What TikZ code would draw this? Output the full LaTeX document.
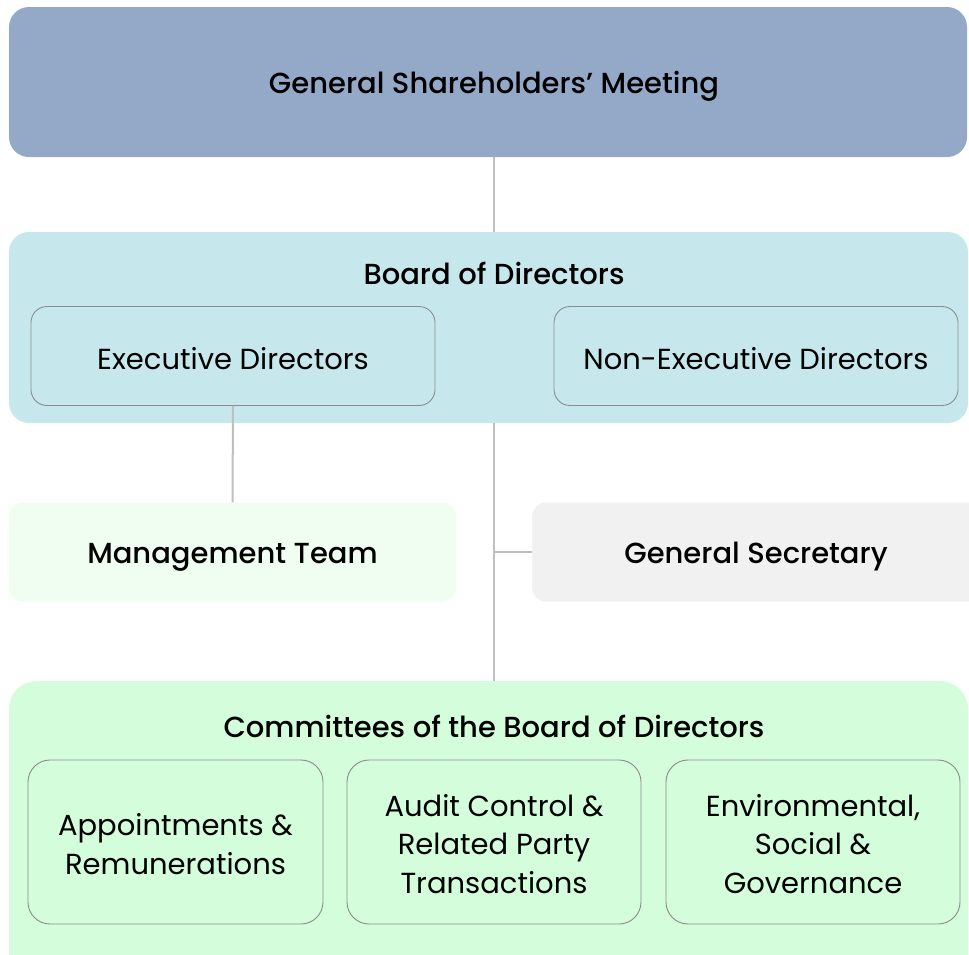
\documentclass[tikz,border=0pt]{standalone}
\usepackage{fontspec}
\setmainfont{Poppins}[BoldFont={Poppins Medium}]
\usetikzlibrary{positioning}
\definecolor{gsmblue}{HTML}{94A9C7}
\definecolor{bodcyan}{HTML}{C6E8EC}
\definecolor{mgmtgreen}{HTML}{EFFEF0}
\definecolor{secgray}{HTML}{F1F1F1}
\definecolor{comgreen}{HTML}{D3FDDB}
\definecolor{framegray}{HTML}{8C8C8C}
\definecolor{linkgray}{HTML}{BFBFBF}
\begin{document}
\begin{tikzpicture}[x=1pt,y=-1pt,
  panel/.style={rounded corners=20pt, inner sep=0pt, text=black},
  title/.style={font=\fontsize{29}{34}\selectfont\bfseries},
  member/.style={draw=framegray, line width=0.9pt, rounded corners=16pt, inner sep=0pt,
    align=center, font=\fontsize{29}{38.5}\selectfont},
  link/.style={draw=linkgray, line width=2pt}]
  \useasboundingbox (0,0) rectangle (969,954);
  \clip (0,0) rectangle (969,954);
  % top level
  \node[panel, fill=gsmblue, minimum width=958pt, minimum height=150pt] (gsm) at (488,82) {};
  \node[title] (gsmtitle) at (494,86) {General Shareholders’ Meeting};
  % board
  \node[panel, fill=bodcyan, minimum width=959pt, minimum height=191pt] (bod) at (488.5,327.5) {};
  \node[title] (bodtitle) at (494,273) {Board of Directors};
  \node[member, fill=bodcyan, minimum width=404pt, minimum height=99pt] (exe) at (233,356) {};
  \node[member, draw=none, fill=none] (exetext) at (233,359) {Executive Directors};
  \node[member, fill=bodcyan, minimum width=404pt, minimum height=99pt] (nonexe) at (756,356) {};
  \node[member, draw=none, fill=none] (nonexetext) at (756,359) {Non-Executive Directors};
  % middle row
  \node[panel, fill=mgmtgreen, rounded corners=14pt, minimum width=447pt, minimum height=99pt] (mgmt) at (232.5,552) {};
  \node[title] (mgmttitle) at (232.5,557) {Management Team};
  \node[panel, fill=secgray, rounded corners=14pt, minimum width=460pt, minimum height=99pt] (sec) at (762,552) {};
  \node[title] (sectitle) at (756,557) {General Secretary};
  % committees
  \node[panel, fill=comgreen, rounded corners=28pt, minimum width=959pt, minimum height=300pt] (com) at (488.5,831) {};
  \node[title] (comtitle) at (494,726) {Committees of the Board of Directors};
  \node[member, fill=comgreen, rounded corners=22pt, minimum width=295pt, minimum height=164pt] (appt) at (175.5,842) {};
  \node[member, draw=none, fill=none] (appttext) at (175.5,844) {Appointments \&\\Remunerations};
  \node[member, fill=comgreen, rounded corners=22pt, minimum width=294pt, minimum height=164pt] (audit) at (494,842) {};
  \node[member, draw=none, fill=none] (audittext) at (494,844) {Audit Control \&\\Related Party\\Transactions};
  \node[member, fill=comgreen, rounded corners=22pt, minimum width=294pt, minimum height=164pt] (esg) at (813,842) {};
  \node[member, draw=none, fill=none] (esgtext) at (813,844) {Environmental,\\Social \&\\Governance};
  % connectors
  \draw[link] (gsm.south -| bodtitle) -- (bod.north -| bodtitle);
  \draw[link] (exe.south) -- (mgmt.north);
  \draw[link] (bod.south -| bodtitle) -- (com.north -| bodtitle);
  \coordinate (branch) at (bodtitle |- sec.west);
  \draw[link] (branch) -- (sec.west);
\end{tikzpicture}
\end{document}
